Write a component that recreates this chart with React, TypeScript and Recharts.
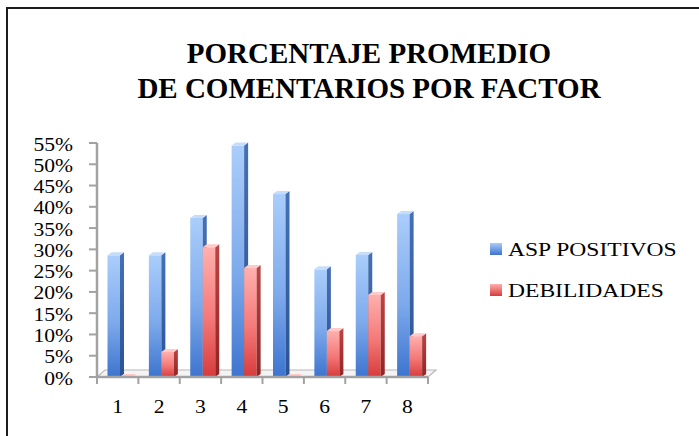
import React from 'react';
import { BarChart, Bar, XAxis, YAxis, Legend, ReferenceArea } from 'recharts';

const categories = ['1', '2', '3', '4', '5', '6', '7', '8'];
const aspPositivos = [28.6, 28.6, 37.4, 54.4, 43.0, 25.3, 28.7, 38.3];
const debilidades = [0, 5.9, 30.5, 25.6, 0, 10.8, 19.3, 9.6];
const yTicks = [0, 5, 10, 15, 20, 25, 30, 35, 40, 45, 50, 55];
const seriesNames = { asp: 'ASP POSITIVOS', deb: 'DEBILIDADES' };
const titleLines = ['PORCENTAJE PROMEDIO', 'DE COMENTARIOS POR FACTOR'];

const data = categories.map((c, i) => ({ factor: c, asp: aspPositivos[i], deb: debilidades[i] }));

const SERIF = '"Liberation Serif", "Times New Roman", Times, serif';
const AXIS = '#a2a2a2';

const BLUE = { light: '#aacdfb', mid: '#7eaaec', dark: '#3d74cf', side: '#4670b6', sideDark: '#2b5394', top: '#c6dcfb' };
const RED = { light: '#ffb0ae', mid: '#f47878', dark: '#d73b3b', side: '#bc4444', sideDark: '#902424', top: '#ffcac8' };
const colorByKey: Record<string, typeof BLUE> = { asp: BLUE, deb: RED };

const SHIFT = 2.5;
const DX = 4;
const DY = 3;

const makeBarShape = (key: string) => (props: any) => {
  const { x, y, width, height } = props;
  if (x == null || y == null) return null;
  const c = colorByKey[key];
  const sx = x + SHIFT;
  const h = Math.max(height || 0, 0);
  return (
    <g>
      <rect x={sx} y={y} width={width} height={h} fill={`url(#front-${key})`} />
      <polygon
        points={`${sx + width},${y} ${sx + width + DX},${y - DY} ${sx + width + DX},${y + h - DY} ${sx + width},${y + h}`}
        fill={`url(#side-${key})`}
      />
      <polygon
        points={`${sx},${y} ${sx + DX},${y - DY} ${sx + width + DX},${y - DY} ${sx + width},${y}`}
        fill={c.top}
      />
    </g>
  );
};

const X_TICK_SIZE = 7;
const X_TICK_MARGIN = 0;

const XTick = (props: any) => {
  const { x, y, payload, index, width } = props;
  const half = (width || 331) / categories.length / 2;
  const axisY = y - X_TICK_SIZE - X_TICK_MARGIN;
  return (
    <g>
      <line x1={x - half} y1={axisY} x2={x - half} y2={axisY + 7} stroke={AXIS} strokeWidth={2} />
      {index === categories.length - 1 && (
        <line x1={x + half} y1={axisY} x2={x + half} y2={axisY + 7} stroke={AXIS} strokeWidth={2} />
      )}
      <text
        transform={`translate(${x},${axisY + 36}) scale(1.2,1)`}
        textAnchor="middle"
        fontSize={18}
        fontFamily={SERIF}
        fill="#000"
      >
        {payload.value}
      </text>
    </g>
  );
};

const YTick = (props: any) => {
  const { x, y, payload } = props;
  return (
    <text
      transform={`translate(${x},${y}) scale(1.2,1)`}
      textAnchor="end"
      dy="0.42em"
      fontSize={18}
      fontFamily={SERIF}
      fill="#000"
    >
      {payload.value}%
    </text>
  );
};

const FloorShape = (props: any) => {
  const { x, y, width, height } = props;
  if (x == null) return null;
  const fy = y + height;
  return (
    <polygon
      points={`${x},${fy} ${x + width},${fy} ${x + width + 8},${fy - 7} ${x + 8},${fy - 7}`}
      fill="#f4f4f4"
      stroke="#b8b8b8"
      strokeWidth={1.2}
    />
  );
};

const LegendContent = (props: any) => {
  const payload = props.payload || [];
  return (
    <div style={{ position: 'relative', width: 200, height: 90, fontFamily: SERIF }}>
      {payload.map((p: any, i: number) => {
        const c = colorByKey[p.dataKey as string] || BLUE;
        return (
          <React.Fragment key={String(p.dataKey)}>
            <div
              style={{
                position: 'absolute',
                left: 0,
                top: 8 + i * 41,
                width: 12,
                height: 12,
                background: `linear-gradient(${c.light}, ${c.dark})`,
              }}
            />
            <span
              style={{
                position: 'absolute',
                left: 18,
                top: 4.8 + i * 41,
                fontSize: 19,
                lineHeight: '19px',
                whiteSpace: 'nowrap',
                color: '#000',
                transform: 'scaleX(1.24)',
                transformOrigin: 'left center',
              }}
            >
              {p.value}
            </span>
          </React.Fragment>
        );
      })}
    </div>
  );
};

export default function App() {
  return (
    <div
      style={{
        position: 'absolute',
        left: 0,
        top: 0,
        width: 699,
        height: 436,
        overflow: 'hidden',
        background: '#fff',
      }}
    >
      <div
        style={{
          position: 'absolute',
          left: 6,
          top: 7,
          width: 800,
          height: 500,
          borderTop: '2px solid #1c1c1c',
          borderLeft: '2px solid #1c1c1c',
        }}
      />
      <div style={{ position: 'absolute', left: 0, top: 0 }}>
        <BarChart
          width={699}
          height={436}
          data={data}
          margin={{ top: 143, right: 271, bottom: 0, left: 8 }}
          barGap={0}
        >
          <defs>
            {(['asp', 'deb'] as const).map((k) => (
              <React.Fragment key={k}>
                <linearGradient id={`front-${k}`} x1="0" y1="0" x2="0" y2="1">
                  <stop offset="0%" stopColor={colorByKey[k].light} />
                  <stop offset="55%" stopColor={colorByKey[k].mid} />
                  <stop offset="100%" stopColor={colorByKey[k].dark} />
                </linearGradient>
                <linearGradient id={`side-${k}`} x1="0" y1="0" x2="0" y2="1">
                  <stop offset="0%" stopColor={colorByKey[k].side} />
                  <stop offset="100%" stopColor={colorByKey[k].sideDark} />
                </linearGradient>
              </React.Fragment>
            ))}
          </defs>
          <XAxis
            dataKey="factor"
            height={59}
            axisLine={{ stroke: AXIS, strokeWidth: 2.5 }}
            tickLine={false}
            tickSize={X_TICK_SIZE}
            tickMargin={X_TICK_MARGIN}
            tick={<XTick />}
            interval={0}
          />
          <YAxis
            width={89}
            domain={[0, 55]}
            ticks={yTicks}
            interval={0}
            axisLine={{ stroke: AXIS, strokeWidth: 2.5 }}
            tickLine={{ stroke: AXIS, strokeWidth: 2 }}
            tickSize={8}
            tickMargin={16}
            tick={<YTick />}
          />
          <ReferenceArea y1={0} y2={1} shape={<FloorShape />} />
          <Bar
            dataKey="asp"
            name={seriesNames.asp}
            fill={BLUE.mid}
            barSize={12.5}
            shape={makeBarShape('asp')}
            isAnimationActive={false}
          />
          <Bar
            dataKey="deb"
            name={seriesNames.deb}
            fill={RED.mid}
            barSize={12.5}
            shape={makeBarShape('deb')}
            isAnimationActive={false}
          />
          <Legend
            layout="vertical"
            align="center"
            verticalAlign="middle"
            content={<LegendContent />}
            wrapperStyle={{ left: 490, top: 235, width: 200, height: 90 }}
          />
        </BarChart>
      </div>
      <div
        style={{
          position: 'absolute',
          left: 0,
          top: 36.2,
          width: 738,
          textAlign: 'center',
          fontFamily: SERIF,
          fontWeight: 'bold',
          fontSize: 29,
          lineHeight: '35px',
          color: '#000',
          whiteSpace: 'nowrap',
        }}
      >
        {titleLines.map((t) => (
          <div key={t}>{t}</div>
        ))}
      </div>
    </div>
  );
}
